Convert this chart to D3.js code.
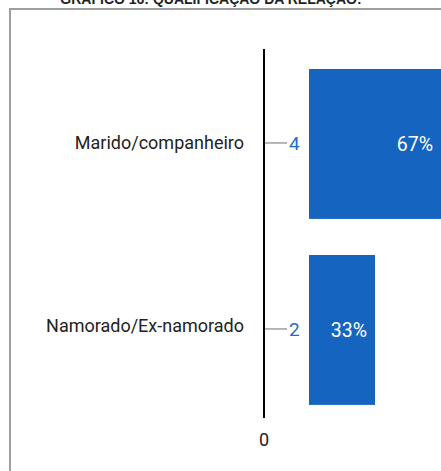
<!DOCTYPE html>
<html><head><meta charset="utf-8">
<script src="https://cdn.jsdelivr.net/npm/d3@7"></script>
<style>html,body{margin:0;padding:0;background:#fff;overflow:hidden}</style>
</head><body>
<script>
const title = "GRÁFICO 16: QUALIFICAÇÃO DA RELAÇÃO:";
const categories = ["Marido/companheiro", "Namorado/Ex-namorado"];
const values = [4, 2];
const percents = ["67%", "33%"];
const xTicks = [0];

const W = 441, H = 471;
const svg = d3.select("body").append("svg").attr("width", W).attr("height", H)
  .style("display","block");

// frame
svg.append("path").attr("d", `M10,${H} V9 H${W}`).attr("fill","none")
  .attr("stroke","#9e9e9e").attr("stroke-width",2);

// title (partly cut off at top, as in the reference)
svg.append("text").attr("x", 211).attr("y", 3.5).attr("text-anchor","middle")
  .attr("font-family","Liberation Sans, Arial, sans-serif").attr("font-weight","bold")
  .attr("font-size",14).attr("fill","#222").text(title);

const axisX = 264;
const x = d3.scaleLinear().domain([0, 4]).range([309, 441]);
const y = d3.scaleBand().domain(categories).range([50.4, 423.5])
  .paddingInner(0.194).paddingOuter(0.1);

const g = svg.append("g");
// bars
g.selectAll("rect.bar").data(categories).join("rect").attr("class","bar")
  .attr("x", x(0)).attr("y", d => y(d))
  .attr("width", (d,i) => x(values[i]) - x(0))
  .attr("height", y.bandwidth()).attr("fill","#1565C0");

// value inside bar
g.selectAll("text.pct").data(categories).join("text").attr("class","pct")
  .attr("x", (d,i) => x(values[i]) - 8).attr("y", d => y(d) + y.bandwidth()/2)
  .attr("dy","0.35em").attr("text-anchor","end")
  .attr("font-family","Roboto, sans-serif").attr("font-size",19.5).attr("fill","#fff")
  .text((d,i) => percents[i]);

// tick lines
g.selectAll("line.tick").data(categories).join("line").attr("class","tick")
  .attr("x1", axisX).attr("x2", axisX + 23)
  .attr("y1", d => y(d) + y.bandwidth()/2 - 1).attr("y2", d => y(d) + y.bandwidth()/2 - 1)
  .attr("stroke","#9e9e9e").attr("stroke-width",1.5);

// count labels
g.selectAll("text.cnt").data(categories).join("text").attr("class","cnt")
  .attr("x", axisX + 25).attr("y", d => y(d) + y.bandwidth()/2 - 1)
  .attr("dy","0.35em")
  .attr("font-family","Roboto, sans-serif").attr("font-size",19).attr("fill","#1e6cc8")
  .text((d,i) => values[i]);

// category labels
g.selectAll("text.cat").data(categories).join("text").attr("class","cat")
  .attr("x", 244).attr("y", (d,i) => y(d) + y.bandwidth()/2 - (i===0?1:4))
  .attr("dy","0.35em").attr("text-anchor","end")
  .attr("font-family","Roboto, sans-serif").attr("font-size",18).attr("fill","#222")
  .text(d => d);

// axis line
svg.append("line").attr("x1", axisX).attr("x2", axisX).attr("y1", 49).attr("y2", 418)
  .attr("stroke","#000").attr("stroke-width",2);

// x tick label
svg.selectAll("text.xt").data(xTicks).join("text").attr("class","xt")
  .attr("x", axisX).attr("y", 440).attr("dy","0.35em").attr("text-anchor","middle")
  .attr("font-family","Roboto, sans-serif").attr("font-size",18).attr("fill","#222")
  .text(d => d);
</script>
</body></html>
